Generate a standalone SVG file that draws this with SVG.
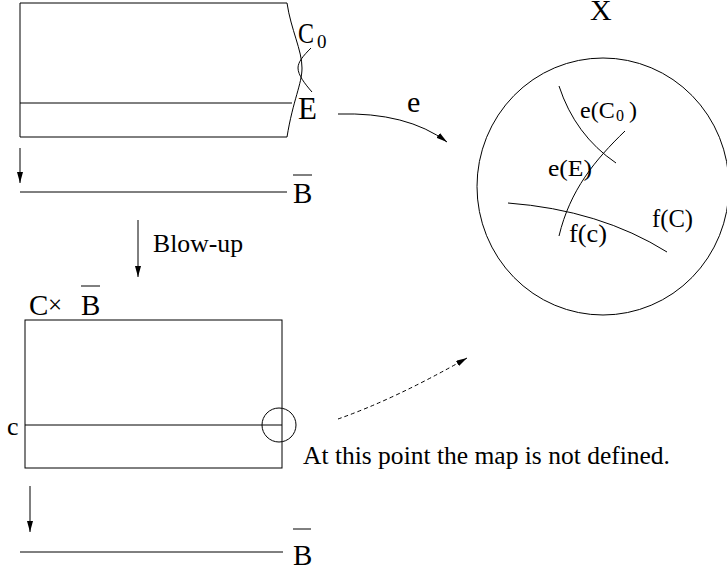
<svg xmlns="http://www.w3.org/2000/svg" width="727" height="571" viewBox="0 0 727 571">
<style>
.l{fill:none;stroke:#000;stroke-width:1}
.t{font-family:"Liberation Serif","DejaVu Serif","Times New Roman",serif;fill:#000}
</style>
<defs>
<marker id="ah" markerUnits="userSpaceOnUse" viewBox="0 0 11 6" refX="11" refY="3" markerWidth="11" markerHeight="6" orient="auto">
<path d="M0,0 L11,3 L0,6 Z" fill="#000"/>
</marker>
</defs>
<rect width="727" height="571" fill="#fff"/>
<g id="top-surface">
<path class="l" d="M287,3 L20,3 L20,137 L287,137"/>
<path class="l" d="M20,103 L292,103"/>
<path class="l" d="M287,3 C291,30 302,50 302,68 C302,84 293,100 287,137"/>
<path class="l" d="M311,48 C303,56 298,62 298,68 C298,75 305,84 312,92"/>
<text class="t" x="298" y="43" font-size="30" textLength="16" lengthAdjust="spacingAndGlyphs">C</text>
<text class="t" x="317" y="48" font-size="19">0</text>
<text class="t" x="298" y="119" font-size="31">E</text>
</g>
<g id="top-base">
<path class="l" d="M20,192 L287,192"/>
<text class="t" x="293" y="203" font-size="29">B</text>
<path class="l" d="M293,175 L312,175"/>
</g>
<g id="blowup-label">
<text class="t" x="153" y="252" font-size="25.5" textLength="90" lengthAdjust="spacingAndGlyphs">Blow-up</text>
</g>
<g id="product">
<text class="t" x="29" y="315" font-size="29">C</text>
<text class="t" x="48" y="313" font-size="25">×</text>
<text class="t" x="81" y="315" font-size="29">B</text>
<path class="l" d="M81,286 L100,286"/>
<rect class="l" x="25" y="320" width="257" height="148"/>
<path class="l" d="M25,425 L282,425"/>
<circle class="l" cx="279" cy="425" r="17"/>
<text class="t" x="7" y="435" font-size="26">c</text>
</g>
<g id="note">
<text class="t" x="303" y="464" font-size="25.5" textLength="367" lengthAdjust="spacingAndGlyphs">At this point the map is not defined.</text>
</g>
<g id="bottom-base">
<path class="l" d="M20,552 L283,552"/>
<text class="t" x="293" y="565" font-size="29">B</text>
<path class="l" d="M293,529 L311,529"/>
</g>
<g id="X">
<text class="t" x="590" y="20" font-size="30">X</text>
<ellipse class="l" cx="603" cy="186.5" rx="126" ry="128.5"/>
<path class="l" d="M559,86 Q575,135 616,163"/>
<path class="l" d="M625,131 C595,160 570,190 559,236"/>
<path class="l" d="M508,203 Q600,210 667,252"/>
<text class="t" x="580" y="118" font-size="24">e(C</text>
<text class="t" x="616" y="121" font-size="16">0</text>
<text class="t" x="629" y="118" font-size="24">)</text>
<text class="t" x="548" y="176" font-size="24" textLength="44" lengthAdjust="spacingAndGlyphs">e(E)</text>
<text class="t" x="652" y="227" font-size="25" textLength="41" lengthAdjust="spacingAndGlyphs">f(C)</text>
<text class="t" x="569" y="242" font-size="26" textLength="38" lengthAdjust="spacingAndGlyphs">f(c)</text>
</g>
<g id="connectors">
<path class="l" d="M20,148 L20,183" marker-end="url(#ah)"/>
<path class="l" d="M138,220 L138,277" marker-end="url(#ah)"/>
<path class="l" d="M30,486 L30,532" marker-end="url(#ah)"/>
<path class="l" d="M338,114 Q407,112 447,142" marker-end="url(#ah)"/>
<path class="l" d="M338,419 Q395,399 467,358" stroke-dasharray="4,3" marker-end="url(#ah)"/>
<text class="t" x="407" y="112" font-size="30">e</text>
</g>
</svg>
